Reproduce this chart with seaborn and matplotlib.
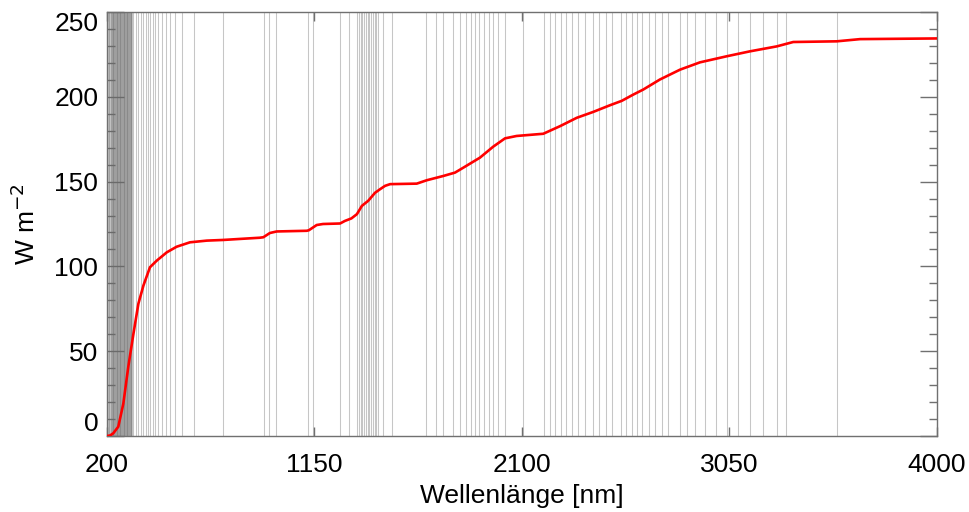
import matplotlib
matplotlib.use('Agg')  # no GUI windows

import pandas as pd
import matplotlib.pyplot as plt
from matplotlib.ticker import MultipleLocator, FixedLocator
import seaborn as sns

# --------------------------------------------------
# Data
# --------------------------------------------------
# band boundaries (nm), drawn as thin gray vertical lines
band_edges = [
    200, 203, 206, 209, 212, 215, 218, 221, 223, 225, 227, 229, 231, 233,
    235, 237, 239, 241, 243, 245, 247, 249, 251, 253, 255, 257, 259, 261,
    263, 265, 267, 269, 271, 273, 275, 277, 279, 281, 283, 285, 287, 289,
    291, 293, 295, 297, 299, 301, 303, 305, 307, 309, 311, 313, 316,
    322, 334, 345, 356, 368, 379, 388, 398, 411, 421, 436, 452, 470, 490,
    513, 543, 601, 734, 921, 944, 973, 1121, 1146, 1268, 1309,
    1345, 1355, 1362, 1370, 1378, 1386, 1394, 1402, 1410, 1418, 1426, 1434,
    1442, 1464, 1506, 1661, 1707, 1739, 1785, 1817, 1844, 1867, 1886, 1904,
    1927, 1950, 1968, 1991, 2023, 2105, 2201, 2229, 2252, 2279, 2302, 2330,
    2357, 2389, 2426, 2453, 2485, 2513, 2554, 2577, 2604, 2627, 2650, 2682,
    2709, 2741, 2769, 2824, 2856, 2892, 2938, 2988, 3039, 3089, 3144, 3204,
    3268, 3309, 3542,
]

# cumulative irradiance curve
wavelength = [
    200, 215, 230, 253, 276, 299, 322, 345, 368, 398, 429, 475, 520, 581,
    658, 734, 810, 900, 917, 947, 978, 1115, 1125, 1161, 1190, 1268, 1290,
    1320, 1345, 1368, 1397, 1428, 1451, 1474, 1497, 1619, 1665, 1740, 1794,
    1832, 1908, 1969, 2023, 2076, 2198, 2275, 2351, 2427, 2503, 2557, 2610,
    2656, 2732, 2824, 2915, 3038, 3144, 3266, 3342, 3541, 3648, 4000,
]
irradiance = [
    0, 0.3, 1.6, 5.5, 19, 41, 60, 78, 88.7, 99.5, 103.4, 108.3, 111.6, 114.2,
    115.2, 115.6, 116.2, 116.9, 117.2, 119.7, 120.6, 121, 121.3, 124.4, 125,
    125.3, 126.8, 128.3, 130.8, 135.7, 138.7, 143.4, 145.5, 147.5, 148.5,
    148.8, 150.8, 153.3, 155.3, 158.2, 164.1, 170.6, 175.5, 176.9, 178.2,
    182.7, 187.6, 191.1, 195, 197.6, 201.3, 204.3, 210.2, 216, 220.3, 223.9,
    226.8, 229.7, 232.3, 232.7, 234, 234.4,
]

x_ticks = [200, 1150, 2100, 3050, 4000]
y_ticks = [0, 50, 100, 150, 200, 250]

df = pd.DataFrame({'wl': wavelength, 'flux': irradiance})

# --------------------------------------------------
# Style
# --------------------------------------------------
sns.set_style('white')
plt.rcParams['font.family'] = ['Liberation Sans', 'DejaVu Sans']
plt.rcParams['xtick.direction'] = 'in'
plt.rcParams['ytick.direction'] = 'in'
plt.rcParams['text.color'] = 'black'
plt.rcParams['axes.labelcolor'] = 'black'
plt.rcParams['xtick.labelcolor'] = 'black'
plt.rcParams['ytick.labelcolor'] = 'black'

fig = plt.figure(figsize=(9.7, 5.12), dpi=100)
ax = fig.add_axes([0.110, 0.1484, 0.856, 0.8282])

# band boundaries (semi-transparent so dense groups get darker)
ax.vlines(band_edges, 0, 1, transform=ax.get_xaxis_transform(),
          color='#6a6a6a', alpha=0.38, linewidth=0.75, zorder=1)

sns.lineplot(data=df, x='wl', y='flux', color='red', linewidth=1.9,
             ax=ax, zorder=3)

ax.set_xlim(200, 4000)
ax.set_ylim(0, 250)

ax.xaxis.set_major_locator(FixedLocator(x_ticks))
ax.yaxis.set_major_locator(FixedLocator(y_ticks))
ax.yaxis.set_minor_locator(MultipleLocator(10))

spine_col = '#707070'
for s in ax.spines.values():
    s.set_color(spine_col)
    s.set_linewidth(1.0)

ax.tick_params(axis='x', which='major', length=6.5, width=1, color=spine_col,
               top=True, bottom=True, labelsize=19, pad=12)
ax.tick_params(axis='y', which='major', length=12, width=1, color=spine_col,
               left=True, right=True, labelsize=19, pad=6)
ax.tick_params(axis='y', which='minor', length=6, width=1, color=spine_col,
               left=True, right=True)

ax.set_xticklabels([str(v) for v in x_ticks])
ax.set_yticklabels([str(v) for v in y_ticks])
ylabels = ax.get_yticklabels()
ylabels[0].set_va('bottom')
ylabels[-1].set_va('top')

ax.set_xlabel('Wellenlänge [nm]', fontsize=19, labelpad=5)
ax.set_ylabel('W m$^{-2}$', fontsize=19, labelpad=10)

fig.savefig('out.png', dpi=100)
plt.close(fig)
